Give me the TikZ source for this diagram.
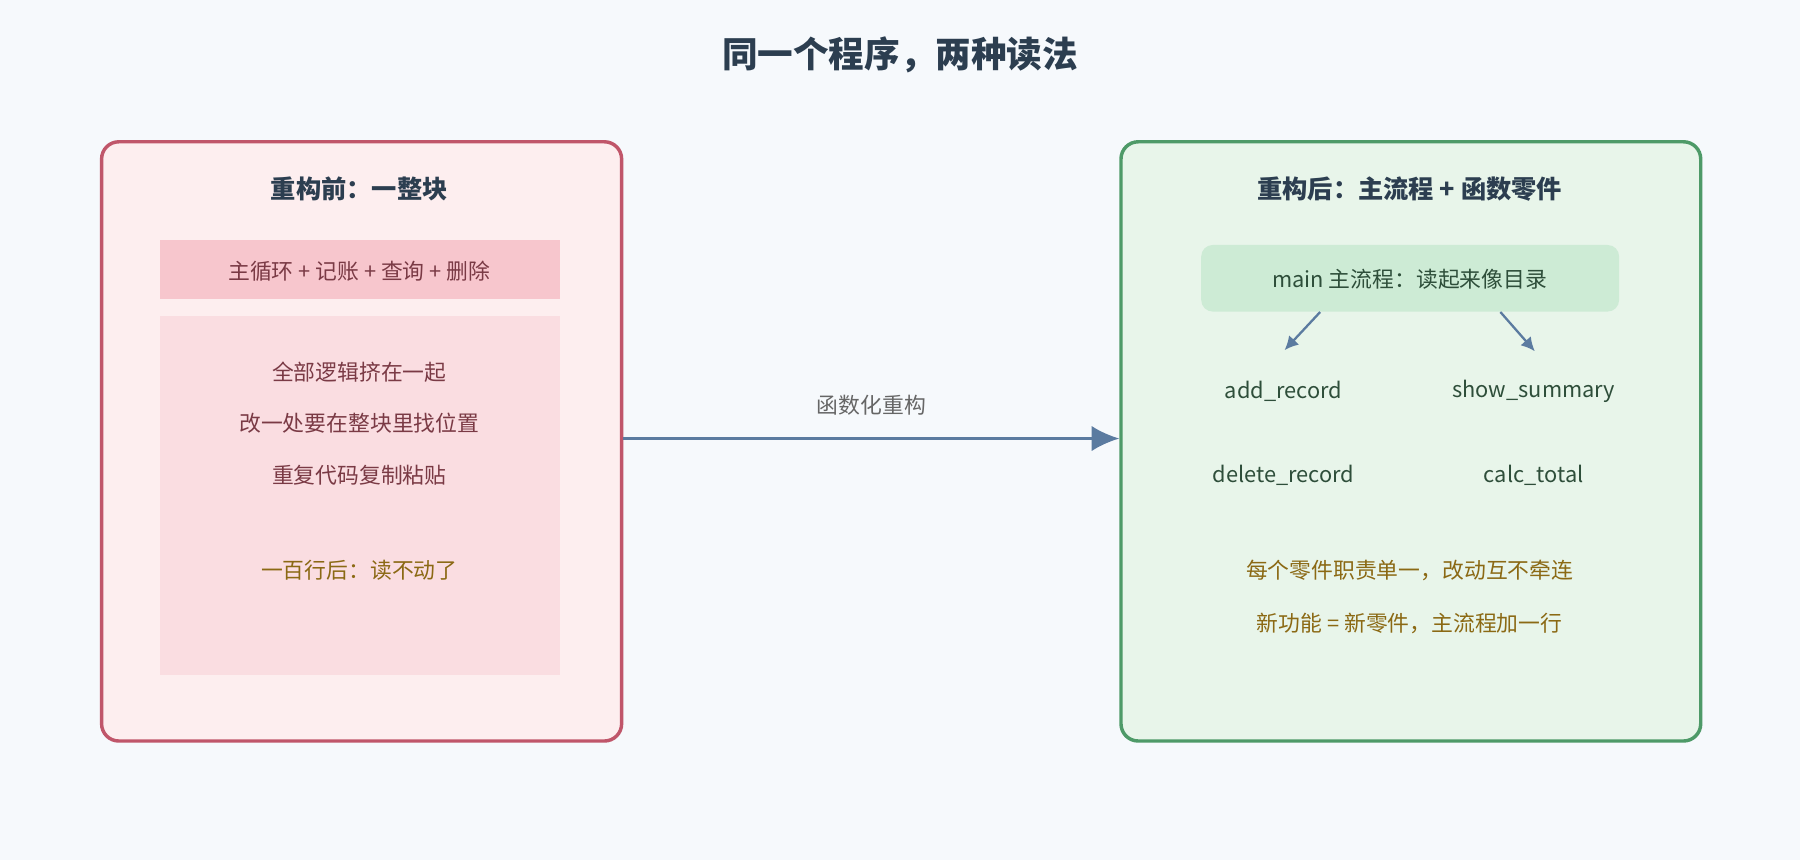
\documentclass[tikz,border=0pt]{standalone}
\usepackage{fontspec}
\setmainfont{Noto Sans CJK SC}
\usetikzlibrary{positioning,arrows.meta}
\definecolor{bgc}{HTML}{F6F9FC}
\definecolor{ink}{HTML}{2C3E50}
\definecolor{redline}{HTML}{C0566A}
\definecolor{redfill}{HTML}{FDEEEF}
\definecolor{redbar}{HTML}{F7C6CD}
\definecolor{redblock}{HTML}{FADDE1}
\definecolor{redtext}{HTML}{7A3A45}
\definecolor{greenline}{HTML}{4E9A68}
\definecolor{greenfill}{HTML}{E8F5EA}
\definecolor{greenbar}{HTML}{CDEBD5}
\definecolor{greentext}{HTML}{2E4E3A}
\definecolor{goldtext}{HTML}{8B6914}
\definecolor{arrowc}{HTML}{5B7BA0}
\begin{document}
\begin{tikzpicture}[x=0.5pt,y=-0.5pt,
    panel/.style={draw, line width=1.5pt, rounded corners=7.5pt, anchor=north west, inner sep=0pt},
    heading/.style={font=\fontsize{11}{13}\selectfont\bfseries, text=ink},
    item/.style={font=\fontsize{9.5}{11}\selectfont},
    link/.style={-{Latex[length=6pt,width=6pt]}, line width=1.2pt, draw=arrowc}]
            % Hintergrund
            \fill[bgc] (0,0) rectangle (1568,749);
            \node[font=\fontsize{15.5}{18}\selectfont\bfseries, text=ink] (title) at (784,48) {同一个程序，两种读法};

            % Linke Seite
            \node[panel, draw=redline, fill=redfill, minimum width=226.5pt, minimum height=261pt] (before) at (87,122) {};
            \node[heading] (beforetitle) at (313,165) {重构前：一整块};
            \node[fill=redbar, anchor=north west, minimum width=174pt, minimum height=25.5pt, inner sep=0pt] (bar) at (139,209) {};
            \node[item, text=redtext] (barlabel) at (313,236) {主循环 + 记账 + 查询 + 删除};
            \node[fill=redblock, anchor=north west, minimum width=174pt, minimum height=156.5pt, inner sep=0pt] (block) at (139,275) {};
            \node[item, text=redtext] (l1) at (313,324) {全部逻辑挤在一起};
            \node[item, text=redtext] (l2) at (313,369) {改一处要在整块里找位置};
            \node[item, text=redtext] (l3) at (313,414) {重复代码复制粘贴};
            \node[item, text=goldtext] (l4) at (313,497) {一百行后：读不动了};

            % Rechte Seite
            \node[panel, draw=greenline, fill=greenfill, minimum width=252.5pt, minimum height=261pt] (after) at (975,122) {};
            \node[heading] (aftertitle) at (1228,165) {重构后：主流程 + 函数零件};
            \node[fill=greenbar, rounded corners=5pt, anchor=north west, minimum width=182pt, minimum height=29pt, inner sep=0pt] (mainflow) at (1046,213) {};
            \node[item, text=greentext] (mainlabel) at (1228,243) {main 主流程：读起来像目录};
            \node[item, text=greentext] (add) at (1118,341) {add\_record};
            \node[item, text=greentext] (show) at (1336,341) {show\_summary};
            \node[item, text=greentext] (del) at (1118,414) {delete\_record};
            \node[item, text=greentext] (calc) at (1336,414) {calc\_total};
            \node[item, text=goldtext] (n1) at (1228,497) {每个零件职责单一，改动互不牵连};
            \node[item, text=goldtext] (n2) at (1228,543) {新功能 = 新零件，主流程加一行};

            % Pfeile
            \coordinate (addtip) at (1119,305);
            \coordinate (showtip) at (1337,306);
            \draw[link, line width=1pt] (mainflow.south -| 1150,0) -- (addtip);
            \draw[link, line width=1pt] (mainflow.south -| 1307,0) -- (showtip);
            \draw[link, -{Latex[length=12pt,width=11pt]}] (before.east |- 0,382) -- node[above=6pt, item, text=black!60] (lbl) {函数化重构} (after.west |- 0,382);
          \end{tikzpicture}
\end{document}
